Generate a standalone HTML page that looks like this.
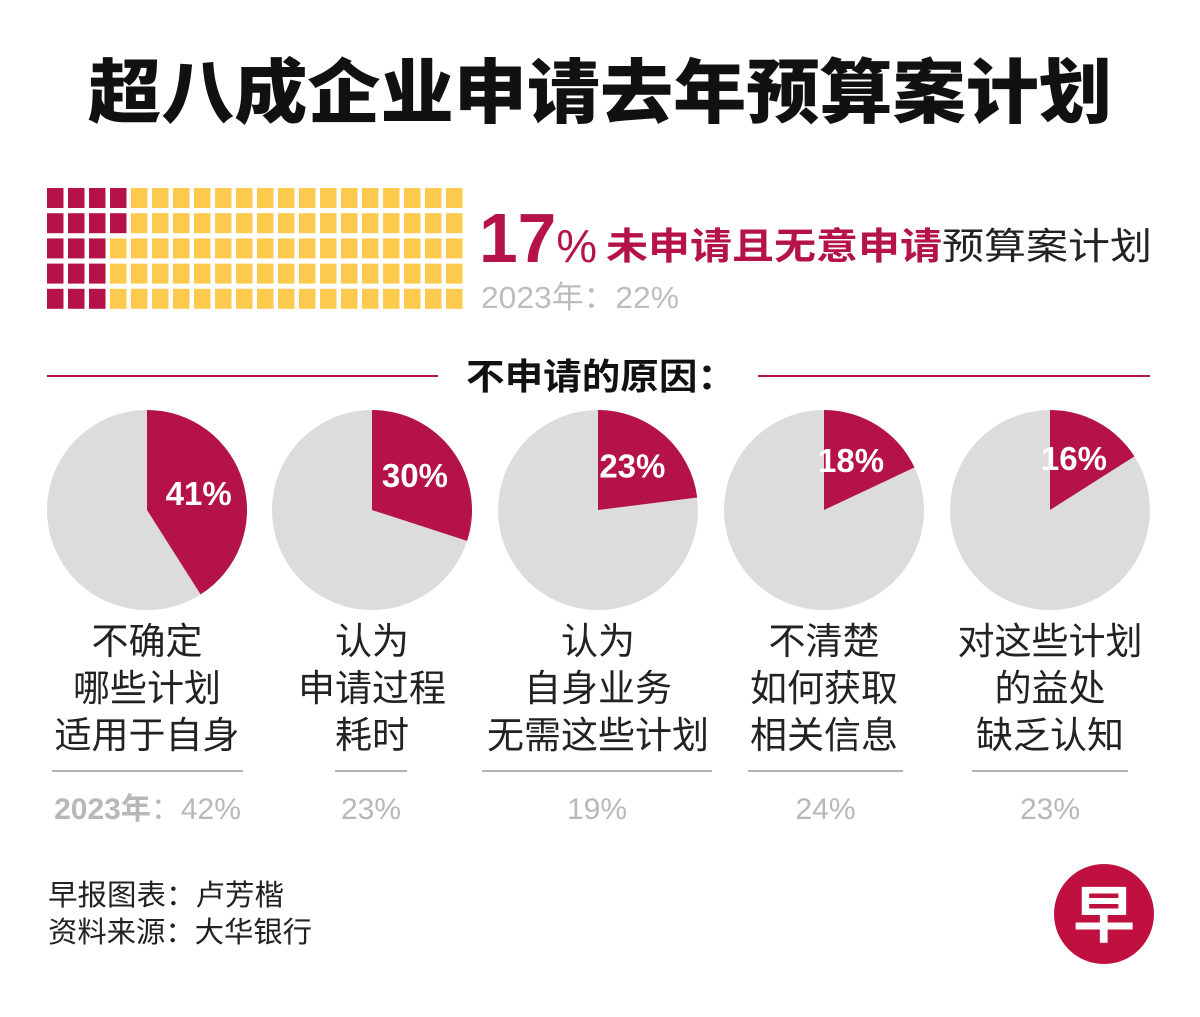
<!DOCTYPE html>
<html><head><meta charset="utf-8">
<style>
body{margin:0;background:#fff;width:1200px;height:1012px;overflow:hidden;font-family:"Liberation Sans","Noto Sans CJK SC",sans-serif}
svg text{font-family:"Liberation Sans","Noto Sans CJK SC",sans-serif}
</style></head>
<body>
<svg id="chart" width="1200" height="1012" viewBox="0 0 1200 1012">
<text x="88" y="117" textLength="1024" lengthAdjust="spacingAndGlyphs" font-size="70" font-weight="900" fill="#111">超八成企业申请去年预算案计划</text>
<g id="waffle"></g>
<text x="479" y="262" textLength="118" lengthAdjust="spacingAndGlyphs" font-size="70" font-weight="700" fill="#b5124a">17<tspan font-size="46" font-weight="400">%</tspan></text>
<text x="606" y="259" textLength="546" lengthAdjust="spacingAndGlyphs" font-size="37" fill="#222"><tspan font-weight="700" fill="#b5124a">未申请且无意申请</tspan>预算案计划</text>
<text x="481" y="308" textLength="198" lengthAdjust="spacingAndGlyphs" font-size="31" fill="#bdbdbd">2023年：22%</text>
<line x1="47" y1="376" x2="438" y2="376" stroke="#b5124a" stroke-width="2"/>
<line x1="758" y1="376" x2="1150" y2="376" stroke="#b5124a" stroke-width="2"/>
<text x="466" y="389" textLength="270" lengthAdjust="spacingAndGlyphs" font-size="36" font-weight="700" fill="#111">不申请的原因：</text>
<g id="pies"></g>
<text x="48" y="905" textLength="236" lengthAdjust="spacingAndGlyphs" font-size="29" fill="#222">早报图表：卢芳楷</text>
<text x="48" y="942" textLength="264" lengthAdjust="spacingAndGlyphs" font-size="29" fill="#222">资料来源：大华银行</text>
<g>
<circle cx="1104" cy="914" r="50" fill="#c0103f"/>
<text x="1104" y="937" text-anchor="middle" font-size="62" font-weight="700" fill="#fff">早</text>
</g>
</svg>
<script>
const wafflePercent = 17;
const pieValues = [41, 30, 23, 18, 16];
const pieLabels = [["不确定","哪些计划","适用于自身"],["认为","申请过程","耗时"],["认为","自身业务","无需这些计划"],["不清楚","如何获取","相关信息"],["对这些计划","的益处","缺乏认知"]];
const prevValues = [42, 23, 19, 24, 23];

const NS="http://www.w3.org/2000/svg";
function mk(t,a){const e=document.createElementNS(NS,t);for(const k in a)e.setAttribute(k,a[k]);return e;}
const wg=document.getElementById('waffle');
for(let i=0;i<100;i++){
  const col=Math.floor(i/5),row=i%5;
  const r=mk('rect',{x:47+col*21,y:188+row*25.2,width:16.5,height:20,fill:i<wafflePercent?'#b5124a':'#fdca4e'});
  
  
  wg.appendChild(r);
}
const pg=document.getElementById('pies');
const cxs=[147,372,598,824,1050], cy=510, R=100;
const lineW=[[52,243],[335,407],[482,712],[748,903],[972,1128]];
pieValues.forEach((v,i)=>{
  const cx=cxs[i];
  const g=mk('g',{});
  
  
  const bg=mk('circle',{cx:cx,cy:cy,r:R,fill:'#dcdcdc'});
  
  
  g.appendChild(bg);
  const a=v/100*2*Math.PI;
  const x2=cx+R*Math.sin(a), y2=cy-R*Math.cos(a);
  const sl=mk('path',{d:`M${cx},${cy} L${cx},${cy-R} A${R},${R} 0 ${v>50?1:0} 1 ${x2},${y2} Z`,fill:'#b5124a'});
  
  
  g.appendChild(sl);
  const m=a/2, d=58;
  const t=mk('text',{x:cx+d*Math.sin(m)-4,y:cy-d*Math.cos(m)+11,'text-anchor':'middle','font-size':33,'font-weight':700,fill:'#fff'});
  t.textContent=v+'%';
  
  
  g.appendChild(t);
  pieLabels[i].forEach((s,j)=>{
    const l=mk('text',{x:cx,y:654+j*47,'text-anchor':'middle','font-size':37,fill:'#222'});
    l.textContent=s;
    
    
    g.appendChild(l);
  });
  const ln=mk('line',{x1:lineW[i][0],x2:lineW[i][1],y1:771,y2:771,stroke:'#999','stroke-width':1.5});
  
  
  g.appendChild(ln);
  const p=mk('text',{x:(lineW[i][0]+lineW[i][1])/2,y:819,'text-anchor':'middle','font-size':30,fill:'#b8b8b8'});
  if(i===0){p.innerHTML='<tspan font-weight="700">2023年</tspan>：'+prevValues[i]+'%';}
  else p.textContent=prevValues[i]+'%';
  
  
  g.appendChild(p);
  pg.appendChild(g);
});
</script>
</body></html>
